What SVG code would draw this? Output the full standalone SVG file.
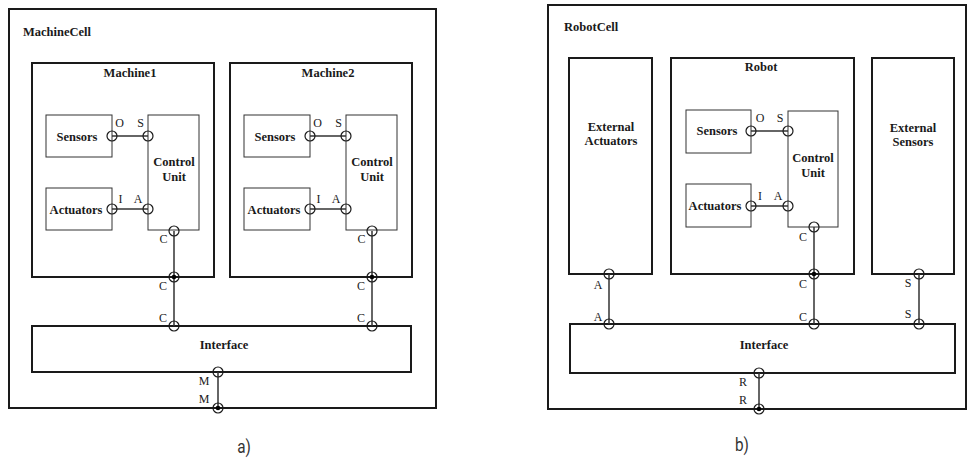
<svg xmlns="http://www.w3.org/2000/svg" width="967" height="459" viewBox="0 0 967 459">
<style>
.bg{fill:#fff}
.thick{fill:#fff;stroke:#1a1a1a;stroke-width:2}
.thin{fill:#fff;stroke:#333;stroke-width:1}
.lbl{font-family:"Liberation Serif","Times New Roman",serif;font-weight:bold;font-size:12.5px;fill:#1a1a1a;text-anchor:middle}
.title{font-family:"Liberation Serif","Times New Roman",serif;font-weight:bold;font-size:12.5px;fill:#1a1a1a}
.pl{font-family:"Liberation Serif","Times New Roman",serif;font-size:12px;fill:#1a1a1a;text-anchor:middle}
.cap{font-family:Roboto,"Liberation Sans",sans-serif;font-size:18px;fill:#333;text-anchor:middle}
.wire{stroke:#333;stroke-width:1.5;fill:none}
.port{fill:none;stroke:#1a1a1a;stroke-width:1.2}
.dot{fill:#000}
</style>
<defs>
<g id="p"><circle class="port" r="5"/></g>
<g id="pd"><circle class="port" r="5"/><circle class="dot" r="2.3"/></g>
</defs>
<rect class="bg" x="0" y="0" width="967" height="459"/>

<!-- Panel a -->
<g id="machinecell">
<rect class="thick" x="9" y="9" width="427" height="399"/>
<text class="title" x="23" y="36">MachineCell</text>
</g>
<g id="machine1">
<rect class="thick" x="32" y="63" width="182" height="214"/>
<text class="lbl" x="130" y="77">Machine1</text>
</g>
<g id="m1-sensors">
<rect class="thin" x="46" y="115" width="66" height="42"/>
<text class="lbl" x="77" y="141">Sensors</text>
</g>
<g id="m1-actuators">
<rect class="thin" x="46" y="188" width="66" height="42"/>
<text class="lbl" x="76" y="214">Actuators</text>
</g>
<g id="m1-control">
<rect class="thin" x="148" y="115" width="51" height="115"/>
<text class="lbl" x="174" y="166">Control</text>
<text class="lbl" x="174" y="181">Unit</text>
</g>
<g id="machine2">
<rect class="thick" x="230" y="63" width="182" height="214"/>
<text class="lbl" x="328" y="77">Machine2</text>
</g>
<g id="m2-sensors">
<rect class="thin" x="244" y="115" width="66" height="42"/>
<text class="lbl" x="275" y="141">Sensors</text>
</g>
<g id="m2-actuators">
<rect class="thin" x="244" y="188" width="66" height="42"/>
<text class="lbl" x="274" y="214">Actuators</text>
</g>
<g id="m2-control">
<rect class="thin" x="346" y="115" width="51" height="115"/>
<text class="lbl" x="372" y="166">Control</text>
<text class="lbl" x="372" y="181">Unit</text>
</g>
<g id="a-interface">
<rect class="thick" x="32" y="326" width="379" height="46"/>
<text class="lbl" x="224" y="349">Interface</text>
</g>

<!-- Panel b -->
<g id="robotcell">
<rect class="thick" x="548" y="5" width="418" height="404"/>
<text class="title" x="564" y="31">RobotCell</text>
</g>
<g id="ext-actuators">
<rect class="thick" x="569" y="58" width="83" height="216"/>
<text class="lbl" x="611" y="131">External</text>
<text class="lbl" x="611" y="145">Actuators</text>
</g>
<g id="robot">
<rect class="thick" x="671" y="58" width="183" height="216"/>
<text class="lbl" x="761" y="71">Robot</text>
</g>
<g id="r-sensors">
<rect class="thin" x="686" y="110" width="65" height="43"/>
<text class="lbl" x="717" y="135">Sensors</text>
</g>
<g id="r-actuators">
<rect class="thin" x="686" y="184" width="65" height="43"/>
<text class="lbl" x="715" y="210">Actuators</text>
</g>
<g id="r-control">
<rect class="thin" x="788" y="111" width="50" height="116"/>
<text class="lbl" x="813" y="162">Control</text>
<text class="lbl" x="813" y="177">Unit</text>
</g>
<g id="ext-sensors">
<rect class="thick" x="872" y="58" width="82" height="216"/>
<text class="lbl" x="913" y="132">External</text>
<text class="lbl" x="913" y="146">Sensors</text>
</g>
<g id="b-interface">
<rect class="thick" x="570" y="324" width="385" height="49"/>
<text class="lbl" x="764" y="349">Interface</text>
</g>

<g id="connectors">
<!-- a -->
<line class="wire" x1="112" y1="136" x2="148" y2="136"/>
<line class="wire" x1="112" y1="209" x2="148" y2="209"/>
<line class="wire" x1="174" y1="231" x2="174" y2="326"/>
<line class="wire" x1="310" y1="136" x2="346" y2="136"/>
<line class="wire" x1="310" y1="209" x2="346" y2="209"/>
<line class="wire" x1="372" y1="231" x2="372" y2="326"/>
<line class="wire" x1="218" y1="372" x2="218" y2="408"/>
<!-- b -->
<line class="wire" x1="751" y1="131" x2="788" y2="131"/>
<line class="wire" x1="751" y1="206" x2="788" y2="206"/>
<line class="wire" x1="814" y1="227" x2="814" y2="324"/>
<line class="wire" x1="609" y1="274" x2="609" y2="324"/>
<line class="wire" x1="919" y1="274" x2="919" y2="324"/>
<line class="wire" x1="759" y1="373" x2="759" y2="409"/>
</g>

<g id="ports">
<use href="#p" x="112" y="136"/><use href="#p" x="148" y="136"/>
<use href="#p" x="112" y="209"/><use href="#p" x="148" y="209"/>
<use href="#p" x="174" y="231"/><use href="#pd" x="174" y="277"/><use href="#p" x="174" y="326"/>
<use href="#p" x="310" y="136"/><use href="#p" x="346" y="136"/>
<use href="#p" x="310" y="209"/><use href="#p" x="346" y="209"/>
<use href="#p" x="372" y="231"/><use href="#pd" x="372" y="277"/><use href="#p" x="372" y="326"/>
<use href="#p" x="218" y="372"/><use href="#pd" x="218" y="408"/>

<use href="#p" x="751" y="131"/><use href="#p" x="788" y="131"/>
<use href="#p" x="751" y="206"/><use href="#p" x="788" y="206"/>
<use href="#p" x="814" y="227"/><use href="#pd" x="814" y="274"/><use href="#p" x="814" y="324"/>
<use href="#p" x="609" y="274"/><use href="#p" x="609" y="324"/>
<use href="#p" x="919" y="274"/><use href="#p" x="919" y="324"/>
<use href="#p" x="759" y="373"/><use href="#pd" x="759" y="409"/>
</g>

<g id="port-labels">
<text class="pl" x="119.5" y="127">O</text><text class="pl" x="140.5" y="127">S</text>
<text class="pl" x="120.5" y="203">I</text><text class="pl" x="138" y="203">A</text>
<text class="pl" x="163.5" y="243">C</text><text class="pl" x="163" y="290">C</text><text class="pl" x="163" y="322">C</text>
<text class="pl" x="317.5" y="127">O</text><text class="pl" x="338.5" y="127">S</text>
<text class="pl" x="318.5" y="203">I</text><text class="pl" x="336" y="203">A</text>
<text class="pl" x="361.5" y="243">C</text><text class="pl" x="361" y="290">C</text><text class="pl" x="361" y="322">C</text>
<text class="pl" x="204" y="385">M</text><text class="pl" x="204" y="403">M</text>

<text class="pl" x="760" y="122">O</text><text class="pl" x="780" y="122">S</text>
<text class="pl" x="760" y="200">I</text><text class="pl" x="778" y="200">A</text>
<text class="pl" x="803" y="241">C</text><text class="pl" x="803" y="288">C</text><text class="pl" x="803" y="321">C</text>
<text class="pl" x="598" y="289">A</text><text class="pl" x="598" y="321">A</text>
<text class="pl" x="908" y="287">S</text><text class="pl" x="908" y="318">S</text>
<text class="pl" x="743" y="386">R</text><text class="pl" x="743" y="404">R</text>
</g>

<text class="cap" x="244" y="453" transform="translate(244 0) scale(0.85 1) translate(-244 0)">a)</text>
<text class="cap" x="742" y="451" transform="translate(742 0) scale(0.85 1) translate(-742 0)">b)</text>
</svg>
